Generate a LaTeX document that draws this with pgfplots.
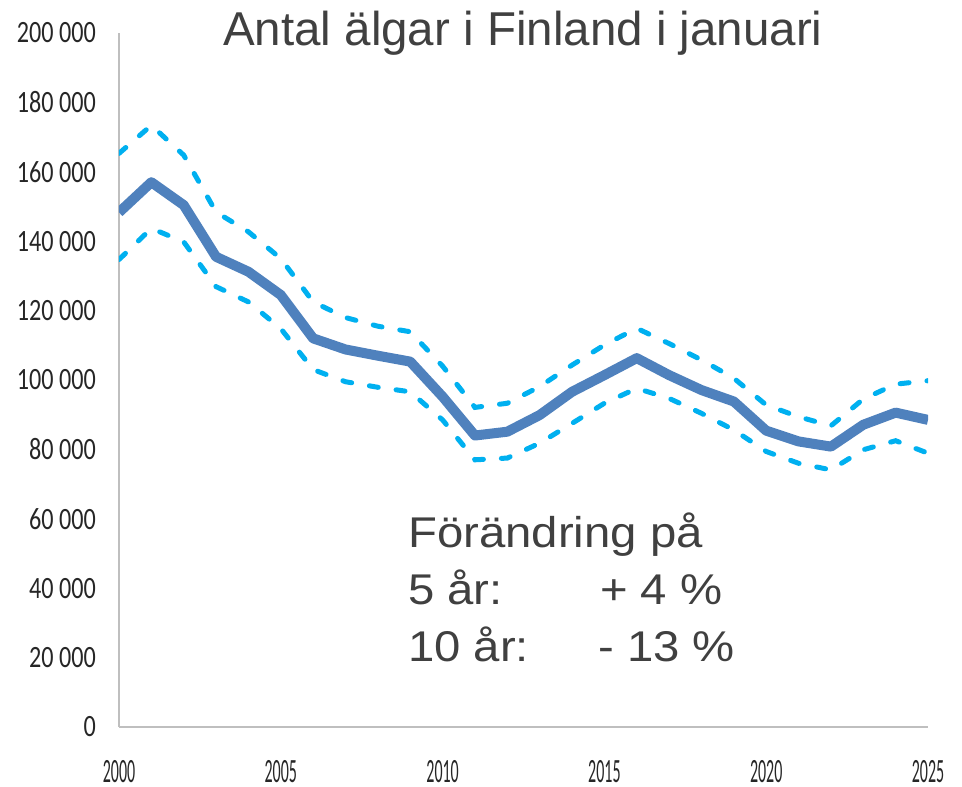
\documentclass[border=0pt]{standalone}
\usepackage{pgfplots}
\pgfplotsset{compat=1.18}
\usepackage{pgfplotstable}
\usepackage{fontspec}
\setmainfont{Liberation Sans}
\newfontfamily\annfont[FakeStretch=1.1]{Liberation Sans}
\newfontfamily\yfont[FakeStretch=0.78]{Carlito}
\newfontfamily\xfont[FakeStretch=0.47]{Carlito}
\definecolor{mainblue}{HTML}{4F81BD}
\definecolor{lightblue}{HTML}{00B0F0}
\definecolor{axgray}{HTML}{BFBFBF}
\definecolor{txt}{HTML}{404040}
\definecolor{tick}{HTML}{262626}

\pgfplotstableread{
year main upper lower
2000 148300 165300 134700
2001 157000 173400 143700
2002 150400 164800 139800
2003 135500 148400 126900
2004 131200 142700 122500
2005 124500 135000 114800
2006 112000 122500 103000
2007 108800 118000 99500
2008 107000 115500 97900
2009 105300 113900 96600
2010 95200 104000 88500
2011 84000 92100 77000
2012 85100 93300 77500
2013 89900 98100 81800
2014 96600 104300 87500
2015 101400 110100 93300
2016 106300 114900 97600
2017 101400 110500 94700
2018 97100 105800 90400
2019 93800 100500 85600
2020 85400 92800 79400
2021 82300 89400 76000
2022 80800 86800 74100
2023 87100 94500 79900
2024 90600 98800 82500
2025 88500 99800 78900
}\datatable

\begin{document}
\begin{tikzpicture}
\useasboundingbox (-119bp,-60bp) rectangle (843bp,727bp);
\begin{axis}[
  at={(0,0)}, anchor=south west,
  scale only axis,
  width=809bp, height=694bp,
  xmin=2000, xmax=2025, ymin=0, ymax=200000,
  axis x line*=bottom, axis y line*=left,
  axis line style={draw=axgray, line width=2bp, -},
  major tick length=0pt,
  xtick={2000,2005,2010,2015,2020,2025},
  xticklabels={2000,2005,2010,2015,2020,2025},
  ytick={0,20000,40000,60000,80000,100000,120000,140000,160000,180000,200000},
  yticklabels={0,20 000,40 000,60 000,80 000,100 000,120 000,140 000,160 000,180 000,200 000},
  yticklabel style={font=\yfont\fontsize{31bp}{31bp}\selectfont, text=tick, anchor=east, inner sep=0pt, xshift=-23bp},
  xticklabel style={font=\xfont\fontsize{34bp}{34bp}\selectfont, text=tick, anchor=north, inner sep=0pt, yshift=-33bp},
  scaled y ticks=false,
]
\addplot[lightblue, line width=5bp, line cap=round, dash pattern=on 9bp off 18bp] table[x=year,y=upper] {\datatable};
\addplot[lightblue, line width=5bp, line cap=round, dash pattern=on 9bp off 18bp] table[x=year,y=lower] {\datatable};
\addplot[mainblue, line width=10bp, line join=round] table[x=year,y=main] {\datatable};
\end{axis}
\node[anchor=base west, inner sep=0pt, text=txt, font=\fontsize{47.5bp}{47.5bp}\selectfont] at (104bp,681bp) {Antal älgar i Finland i januari};
\node[anchor=base west, inner sep=0pt, text=txt, font=\annfont\fontsize{43bp}{43bp}\selectfont] at (289bp,179bp) {Förändring på};
\node[anchor=base west, inner sep=0pt, text=txt, font=\annfont\fontsize{43bp}{43bp}\selectfont] at (289bp,122bp) {5 år:};
\node[anchor=base west, inner sep=0pt, text=txt, font=\annfont\fontsize{43bp}{43bp}\selectfont] at (289bp,65bp) {10 år:};
\node[anchor=base west, inner sep=0pt, text=txt, font=\annfont\fontsize{43bp}{43bp}\selectfont] at (481bp,122bp) {+ 4 \%};
\node[anchor=base west, inner sep=0pt, text=txt, font=\annfont\fontsize{43bp}{43bp}\selectfont] at (479bp,65bp) {- 13 \%};
\end{tikzpicture}
\end{document}
